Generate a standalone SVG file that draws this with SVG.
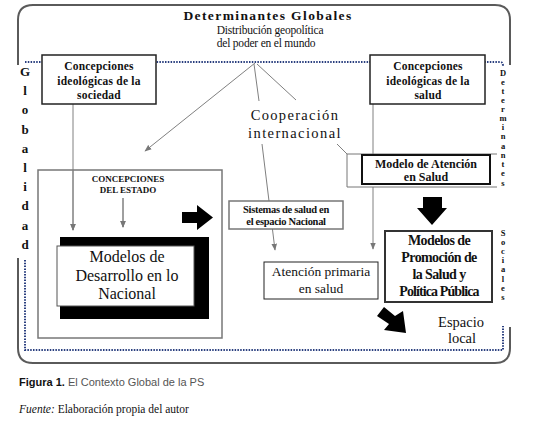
<svg xmlns="http://www.w3.org/2000/svg" width="540" height="426" viewBox="0 0 540 426">
<defs>
<marker id="ah" viewBox="0 0 10 10" refX="9" refY="5" markerWidth="7" markerHeight="7" orient="auto" markerUnits="userSpaceOnUse"><path d="M0,1 L10,5 L0,9 z" fill="#777"/></marker>
</defs>
<style>
text{font-family:"Liberation Serif","Times New Roman",serif;fill:#111}
.c{text-anchor:middle}
.b{font-weight:bold}
.ln{fill:none;stroke:#808080;stroke-width:1}
.dot{fill:none;stroke:#2a3f7f;stroke-width:2;stroke-dasharray:1.5 1.3}
.outer{fill:none;stroke:#5a5a5a;stroke-width:2}
.bx{fill:#fff;stroke:#222;stroke-width:1.5}
.gb{fill:#fff;stroke:#777;stroke-width:1.5}
.vl{font-weight:bold;font-size:13px;text-anchor:middle}
.vr{font-weight:bold;font-size:8.5px;text-anchor:middle}
</style>
<rect width="540" height="426" fill="#fff"/>

<g id="frame">
<path class="outer" d="M18,65 V20 Q18,5 33,5 H495 Q510,5 510,20 V65"/>
<path class="outer" d="M18,258 V348 Q18,363 33,363 H495 Q510,363 510,348 V327"/>
<path class="dot" d="M25,62 H500 Q503,62 503,66"/>
<path class="dot" d="M25,260 V350 H503 V326"/>
</g>

<g id="title">
<text class="c b" x="268" y="20" font-size="13.5" letter-spacing="1.4">Determinantes Globales</text>
<text class="c" x="270" y="34" font-size="11.5" letter-spacing="-0.2">Distribución geopolítica</text>
<text class="c" x="266" y="46.5" font-size="11.5" letter-spacing="-0.2">del poder en el mundo</text>
</g>

<g id="connectors">
<path class="ln" d="M255,63 L145,151" marker-end="url(#ah)"/>
<path class="ln" d="M254,64 L259,101"/>
<path class="ln" d="M257,64 L296,100"/>
<path class="ln" d="M262,144 L275,250" marker-end="url(#ah)"/>
<path class="ln" d="M337,144 L355,162" marker-end="url(#ah)"/>
<path class="ln" d="M73,104 L73,230" marker-end="url(#ah)"/>
<path class="ln" d="M123,198 L123,227" marker-end="url(#ah)"/>
<path class="ln" d="M373,104 L373,249" marker-end="url(#ah)"/>
</g>

<g id="globalidad">
<text class="vl" x="25" y="76">G</text>
<text class="vl" x="25" y="95">l</text>
<text class="vl" x="25" y="114">o</text>
<text class="vl" x="25" y="134">b</text>
<text class="vl" x="25" y="153">a</text>
<text class="vl" x="25" y="172">l</text>
<text class="vl" x="25" y="191">i</text>
<text class="vl" x="25" y="210">d</text>
<text class="vl" x="25" y="230">a</text>
<text class="vl" x="25" y="249">d</text>
</g>

<g id="concepciones-sociedad">
<rect class="bx" x="42" y="55" width="114" height="49"/>
<text class="c b" x="99" y="70" font-size="11.5" letter-spacing="0.2">Concepciones</text>
<text class="c b" x="99" y="85" font-size="11.5" letter-spacing="0.2">ideológicas de la</text>
<text class="c b" x="99" y="99" font-size="11.5" letter-spacing="0.2">sociedad</text>
</g>

<g id="concepciones-salud">
<rect class="bx" x="370" y="55" width="115" height="49"/>
<text class="c b" x="428" y="70" font-size="11.5" letter-spacing="0.2">Concepciones</text>
<text class="c b" x="428" y="85" font-size="11.5" letter-spacing="0.2">ideológicas de la</text>
<text class="c b" x="428" y="99" font-size="11.5" letter-spacing="0.2">salud</text>
</g>

<g id="cooperacion">
<text class="c" x="295" y="120" font-size="14.5" letter-spacing="1.3">Cooperación</text>
<text class="c" x="295" y="138" font-size="14.5" letter-spacing="1.4">internacional</text>
</g>

<g id="concepciones-estado">
<rect x="38" y="170" width="184" height="168" fill="none" stroke="#777" stroke-width="1.5"/>
<text class="c b" x="128" y="182" font-size="9">CONCEPCIONES</text>
<text class="c b" x="128" y="193" font-size="9">DEL ESTADO</text>
<path class="ln" d="M73,170 L73,230" marker-end="url(#ah)"/>
<path class="ln" d="M123,198 L123,227" marker-end="url(#ah)"/>
</g>

<g id="modelos-desarrollo">
<rect x="60" y="237" width="149" height="82" fill="#000"/>
<rect x="57" y="246" width="137" height="60" fill="#fff" stroke="#555" stroke-width="1"/>
<text class="c" x="127" y="262" font-size="16">Modelos de</text>
<text class="c" x="127" y="281" font-size="16">Desarrollo en lo</text>
<text class="c" x="127" y="299" font-size="16">Nacional</text>
</g>

<g id="flecha-derecha">
<polygon points="182,212 197,212 197,205 213,217.5 197,230 197,223 182,223" fill="#000"/>
</g>

<g id="sistemas-salud">
<rect class="gb" x="229" y="201" width="114" height="28"/>
<text class="c b" x="286" y="213" font-size="10.5" letter-spacing="-0.3">Sistemas de salud en</text>
<text class="c b" x="286" y="225" font-size="10.5" letter-spacing="-0.3">el espacio Nacional</text>
</g>

<g id="atencion-primaria">
<rect x="264" y="262" width="114" height="37" fill="#fff" stroke="#222" stroke-width="1"/>
<text class="c" x="321" y="276" font-size="13.5">Atención primaria</text>
<text class="c" x="321" y="293" font-size="13.5">en salud</text>
</g>

<g id="modelo-atencion">
<path d="M497,154 H347 V187 H497" fill="#fff" stroke="#777" stroke-width="1"/>
<rect x="362" y="155" width="128" height="29" fill="#fff" stroke="#111" stroke-width="2"/>
<text class="c b" x="426" y="168" font-size="12">Modelo de Atención</text>
<text class="c b" x="426" y="181" font-size="12">en Salud</text>
</g>

<g id="flecha-abajo">
<polygon points="423,197 442,197 442,208 447,208 432,225 417,208 423,208" fill="#000"/>
</g>

<g id="modelos-promocion">
<rect x="385" y="231" width="107" height="71" fill="#fff" stroke="#333" stroke-width="2"/>
<text class="c b" x="439" y="245" font-size="14" letter-spacing="-0.6">Modelos de</text>
<text class="c b" x="439" y="262" font-size="14" letter-spacing="-0.6">Promoción de</text>
<text class="c b" x="439" y="279" font-size="14" letter-spacing="-0.6">la Salud y</text>
<text class="c b" x="439" y="296" font-size="14" letter-spacing="-0.9">Política Pública</text>
</g>

<g id="flecha-diagonal">
<polygon points="384,307 395,316 403,311 406,333 384,330 389,324 377,316" fill="#000"/>
</g>

<g id="espacio-local">
<text class="c" x="461" y="327" font-size="14.5">Espacio</text>
<text class="c" x="462" y="343" font-size="14.5">local</text>
</g>

<g id="determinantes-sociales">
<text class="vr" x="503" y="76">D</text>
<text class="vr" x="503" y="85">e</text>
<text class="vr" x="503" y="94">t</text>
<text class="vr" x="503" y="103">e</text>
<text class="vr" x="503" y="112">r</text>
<text class="vr" x="503" y="121">m</text>
<text class="vr" x="503" y="130">i</text>
<text class="vr" x="503" y="139">n</text>
<text class="vr" x="503" y="149">a</text>
<text class="vr" x="503" y="158">n</text>
<text class="vr" x="503" y="167">t</text>
<text class="vr" x="503" y="176">e</text>
<text class="vr" x="503" y="186">s</text>
<text class="vr" x="503" y="236">S</text>
<text class="vr" x="503" y="245">o</text>
<text class="vr" x="503" y="254">c</text>
<text class="vr" x="503" y="263">i</text>
<text class="vr" x="503" y="272">a</text>
<text class="vr" x="503" y="282">l</text>
<text class="vr" x="503" y="291">e</text>
<text class="vr" x="503" y="300">s</text>
</g>

<g id="caption">
<text x="19" y="386" font-size="11" style="font-family:'Liberation Sans',Arial,sans-serif"><tspan font-weight="bold" fill="#111">Figura 1.</tspan><tspan fill="#555"> El Contexto Global de la PS</tspan></text>
<text x="19" y="413" font-size="11.5"><tspan font-style="italic">Fuente:</tspan> Elaboración propia del autor</text>
</g>
</svg>
